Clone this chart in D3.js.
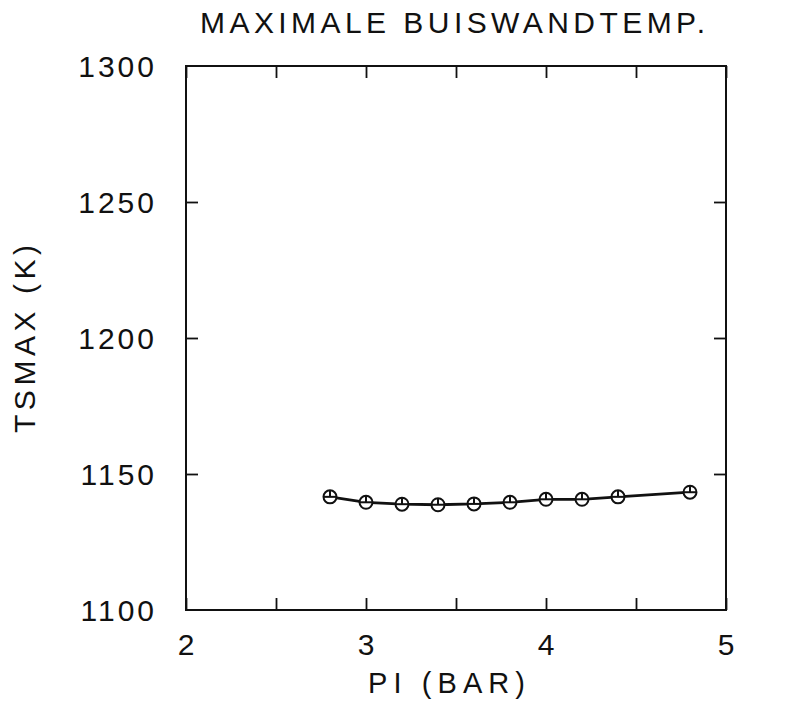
<!DOCTYPE html>
<html>
<head>
<meta charset="utf-8">
<script src="https://cdn.jsdelivr.net/npm/d3@7"></script>
<style>
  html, body { margin: 0; padding: 0; background: #fff; }
  svg text { font-family: "Liberation Sans", "DejaVu Sans", sans-serif; fill: #111; }
</style>
</head>
<body>
<svg id="chart" width="787" height="701"></svg>
<script>
const title = "MAXIMALE BUISWANDTEMP.";
const xLabel = "PI (BAR)";
const yLabel = "TSMAX (K)";
const piValues = [2.8, 3.0, 3.2, 3.4, 3.6, 3.8, 4.0, 4.2, 4.4, 4.8];
const tsmaxValues = [1141.6, 1139.6, 1138.9, 1138.7, 1139.0, 1139.6, 1140.7, 1140.7, 1141.6, 1143.3];
const xTickValues = [2, 2.5, 3, 3.5, 4, 4.5, 5];
const xTickLabels = [2, 3, 4, 5];
const yTickValues = [1100, 1150, 1200, 1250, 1300];
const yTickLabels = [1100, 1150, 1200, 1250, 1300];

(function () {
const svg = d3.select("#chart");
const pLeft = 186, pRight = 726, pTop = 66, pBottom = 610;
const x = d3.scaleLinear().domain([2, 5]).range([pLeft, pRight]);
const y = d3.scaleLinear().domain([1100, 1300]).range([pBottom, pTop]);
const ink = "#111";
const tickLen = 12;

// frame
svg.append("rect").attr("x", pLeft).attr("y", pTop)
  .attr("width", pRight - pLeft).attr("height", pBottom - pTop)
  .attr("fill", "none").attr("stroke", ink).attr("stroke-width", 2);

// inward ticks via d3 axes
const xb = d3.axisBottom(x).tickValues(xTickValues).tickSizeInner(-tickLen).tickSizeOuter(0).tickFormat("");
const xt = d3.axisTop(x).tickValues(xTickValues).tickSizeInner(-tickLen).tickSizeOuter(0).tickFormat("");
const yl = d3.axisLeft(y).tickValues(yTickValues.slice(1, -1)).tickSizeInner(-tickLen).tickSizeOuter(0).tickFormat("");
const yr = d3.axisRight(y).tickValues(yTickValues.slice(1, -1)).tickSizeInner(-tickLen).tickSizeOuter(0).tickFormat("");
[[xb, `translate(0,${pBottom})`], [xt, `translate(0,${pTop})`], [yl, `translate(${pLeft},0)`], [yr, `translate(${pRight},0)`]]
  .forEach(([ax, tr]) => {
    const g = svg.append("g").attr("transform", tr).call(ax);
    g.select(".domain").remove();
    g.selectAll(".tick line").attr("stroke", ink).attr("stroke-width", 1.8);
  });

// tick labels
svg.append("g").selectAll("text").data(xTickLabels).join("text")
  .attr("x", d => x(d)).attr("y", 655)
  .attr("text-anchor", "middle").attr("font-size", 30)
  .text(d => d);

svg.append("g").selectAll("text").data(yTickLabels).join("text")
  .attr("x", 157).attr("y", d => y(d) + 11)
  .attr("text-anchor", "end").attr("font-size", 30)
  .attr("letter-spacing", 3)
  .text(d => d);

// title
svg.append("text").attr("x", 200).attr("y", 33)
  .attr("font-size", 30)
  .attr("textLength", 505).attr("lengthAdjust", "spacing")
  .text(title);

// x label
svg.append("text").attr("x", 368).attr("y", 693)
  .attr("font-size", 29)
  .attr("textLength", 157).attr("lengthAdjust", "spacing")
  .text(xLabel);

// y label
svg.append("text")
  .attr("transform", "translate(35,433) rotate(-90)")
  .attr("font-size", 30)
  .attr("textLength", 188).attr("lengthAdjust", "spacing")
  .text(yLabel);

// data line
const data = piValues.map((p, i) => ({ p, t: tsmaxValues[i] }));
svg.append("path").datum(data)
  .attr("fill", "none").attr("stroke", ink).attr("stroke-width", 2.8)
  .attr("d", d3.line().x(d => x(d.p)).y(d => y(d.t)));

// markers
const r = 6.5;
const m = svg.append("g").selectAll("g").data(data).join("g")
  .attr("transform", d => `translate(${x(d.p)},${y(d.t)})`);
m.append("circle").attr("r", r).attr("fill", "#fff").attr("stroke", ink).attr("stroke-width", 2);
m.append("line").attr("x1", -r).attr("x2", r).attr("y1", 0).attr("y2", 0)
  .attr("stroke", ink).attr("stroke-width", 2);
m.append("line").attr("x1", 0).attr("x2", 0).attr("y1", -r).attr("y2", 0)
  .attr("stroke", ink).attr("stroke-width", 2);
})();
</script>
</body>
</html>
